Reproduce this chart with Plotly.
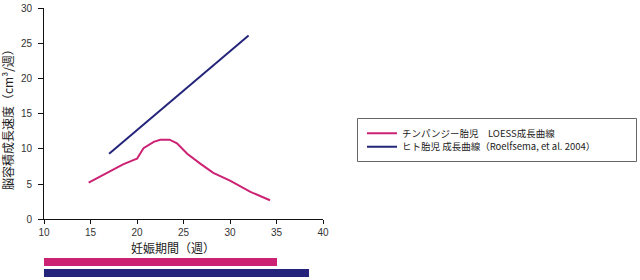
import plotly.graph_objects as go

# Data
chimp_weeks = [14.8, 17.1, 18.5, 19.6, 20.0, 20.7, 21.8, 22.5, 23.5, 24.3, 25.4, 26.8, 28.2, 30.0, 32.2, 34.3]
chimp_rate = [5.2, 6.8, 7.8, 8.4, 8.6, 10.1, 11.0, 11.3, 11.3, 10.8, 9.3, 7.9, 6.6, 5.5, 3.9, 2.7]
human_weeks = [17.0, 32.0]
human_rate = [9.3, 26.1]
bar_names = ["チンパンジー", "ヒト"]
bar_start = [10, 10]
bar_end = [35.0, 38.5]

PINK = "#CC2273"
NAVY = "#23247A"
FONT = "Liberation Sans, Noto Sans CJK JP, sans-serif"
CJK = "Noto Sans CJK JP, sans-serif"

fig = go.Figure()
fig.add_trace(go.Scatter(x=chimp_weeks, y=chimp_rate, mode="lines",
                         line=dict(color=PINK, width=2),
                         name="チンパンジー胎児　LOESS成長曲線", legend="legend"))
fig.add_trace(go.Scatter(x=human_weeks, y=human_rate, mode="lines",
                         line=dict(color=NAVY, width=2),
                         name="ヒト胎児 成長曲線（Roelfsema, et al. 2004）", legend="legend2"))
fig.add_trace(go.Bar(y=bar_names, x=[e - s for s, e in zip(bar_start, bar_end)],
                     base=bar_start, orientation="h",
                     marker=dict(color=[PINK, NAVY], line=dict(width=0)),
                     width=0.68, xaxis="x2", yaxis="y2", showlegend=False))

W, H = 640, 280
ml, mr, mt, mb = 44, 640 - 323, 8, 1
pw = W - ml - mr
ph = H - mt - mb

def px_x(x):
    return (x - ml) / pw

def px_y(y):
    return (H - mb - y) / ph

legend_common = dict(xanchor="left", yanchor="middle", bgcolor="rgba(0,0,0,0)",
                     borderwidth=0, font=dict(family=CJK, size=9.5, color="#222"),
                     itemwidth=30)

fig.update_layout(
    width=W, height=H,
    margin=dict(l=ml, r=mr, t=mt, b=mb, autoexpand=False),
    paper_bgcolor="white", plot_bgcolor="white",
    font=dict(family=FONT, size=10, color="#333"),
    xaxis=dict(range=[10, 40], tickvals=[10, 15, 20, 25, 30, 35, 40],
               showgrid=False, zeroline=False, showline=True, linecolor="#111",
               linewidth=1, ticks="outside", ticklen=4, tickcolor="#111",
               anchor="y", automargin=False, tickfont=dict(size=10, color="#333")),
    yaxis=dict(range=[0, 30], tickvals=[0, 5, 10, 15, 20, 25, 30],
               domain=[px_y(219.3), 1], showgrid=False, zeroline=False,
               showline=True, linecolor="#111", linewidth=1, ticks="outside",
               ticklen=5, tickcolor="#111", tickfont=dict(size=10, color="#333"),
               ticklabelstandoff=4, anchor="x", automargin=False),
    xaxis2=dict(range=[10, 40], visible=False, anchor="y2", automargin=False),
    yaxis2=dict(domain=[0, px_y(256.3)], range=[1.5, -0.5], visible=False,
                anchor="x2", type="category", automargin=False),
    bargap=0,
    legend=dict(x=px_x(362), y=px_y(133.3), **legend_common),
    legend2=dict(x=px_x(362), y=px_y(146.7), **legend_common),
    shapes=[dict(type="rect", xref="paper", yref="paper",
                 x0=px_x(357.5), x1=px_x(636.5), y0=px_y(161.5), y1=px_y(118.5),
                 line=dict(color="#666", width=1), fillcolor="rgba(0,0,0,0)")],
    annotations=[
        dict(text="脳容積成長速度（cm³/週）", xref="paper", yref="paper",
             x=px_x(7), y=px_y(117), xanchor="center", yanchor="middle",
             textangle=-90, showarrow=False,
             font=dict(family=CJK, size=12, color="#222")),
        dict(text="妊娠期間（週）", xref="paper", yref="paper",
             x=px_x(173), y=px_y(247), xanchor="center", yanchor="middle",
             showarrow=False,
             font=dict(family=CJK, size=12, color="#222")),
    ],
)

fig.write_html("out.html")
